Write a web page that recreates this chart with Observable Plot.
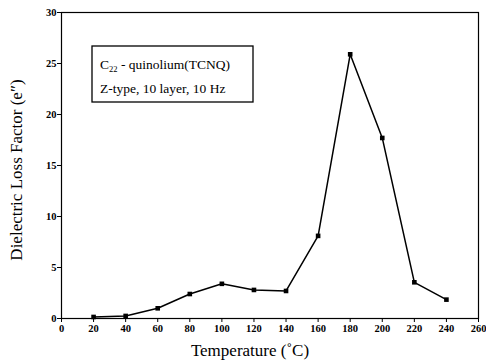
<!DOCTYPE html>
<html><head><meta charset="utf-8">
<script src="https://cdn.jsdelivr.net/npm/d3@7"></script>
<script src="https://cdn.jsdelivr.net/npm/@observablehq/plot@0.6"></script>
<style>
body{margin:0;background:#fff;}
#chart svg{display:block;}
#chart g[aria-label$="tick label"] text{font-weight:bold;}
</style>
</head><body><div id="chart"></div>
<script>
const temperature = [20, 40, 60, 80, 100, 120, 140, 160, 180, 200, 220, 240];
const lossFactor = [0.15, 0.25, 1.0, 2.4, 3.4, 2.8, 2.7, 8.1, 25.9, 17.7, 3.55, 1.85];
const xTicks = [0, 20, 40, 60, 80, 100, 120, 140, 160, 180, 200, 220, 240, 260];
const yTicks = [0, 5, 10, 15, 20, 25, 30];
const legendLines = ["quinolium(TCNQ)", "Z-type, 10 layer, 10 Hz"];

const data = temperature.map((t, i) => ({t, v: lossFactor[i]}));

const plot = Plot.plot({
  width: 486, height: 364,
  marginLeft: 61, marginRight: 8, marginTop: 12, marginBottom: 46,
  style: {fontFamily: "'Liberation Serif', serif", background: "#fff", color: "#000"},
  x: {domain: [0, 260], ticks: xTicks, tickSize: 4, label: null},
  y: {domain: [0, 30], ticks: yTicks, tickSize: 4, label: null},
  marks: [
    Plot.frame({stroke: "#000", strokeWidth: 1.2}),
    Plot.axisX({ticks: xTicks, tickSize: 4, tickPadding: 2, fontSize: 10.5, label: null}),
    Plot.axisY({ticks: yTicks, tickSize: 4, tickPadding: 1, fontSize: 10.5, label: null}),
    Plot.line(data, {x: "t", y: "v", stroke: "#000", strokeWidth: 1.5}),
    Plot.dot(data, {x: "t", y: "v", symbol: "square", r: 2.6, fill: "#000", stroke: "none"})
  ]
});

const svg = d3.select(plot);
svg.selectAll("g[aria-label$='tick label']").attr("font-weight", "bold");
// axis titles
svg.append("text")
  .attr("x", 250).attr("y", 356)
  .attr("text-anchor", "middle")
  .style("font-family", "'Liberation Serif', serif").style("font-size", "17px")
  .text("Temperature (\u02DAC)");
svg.append("text")
  .attr("transform", "translate(22,170) rotate(-90)")
  .attr("text-anchor", "middle")
  .style("font-family", "'Liberation Serif', serif").style("font-size", "17px")
  .text("Dielectric Loss Factor (e\u2033)");

// legend box
const g = svg.append("g").attr("text-anchor", "start")
  .style("font-family", "'Liberation Serif', serif").style("font-size", "13.5px");
g.append("rect").attr("x", 92).attr("y", 46).attr("width", 161).attr("height", 56)
  .attr("fill", "#fff").attr("stroke", "#000").attr("stroke-width", 1.3);
const t1 = g.append("text").attr("x", 100).attr("y", 69).attr("text-anchor", "start");
t1.append("tspan").text("C");
t1.append("tspan").attr("dy", 3).style("font-size", "8.5px").text("22");
t1.append("tspan").attr("dy", -3).text(" - " + legendLines[0]);
g.append("text").attr("x", 100).attr("y", 93).attr("text-anchor", "start").text(legendLines[1]);

document.getElementById("chart").appendChild(plot);
</script>
</body></html>
